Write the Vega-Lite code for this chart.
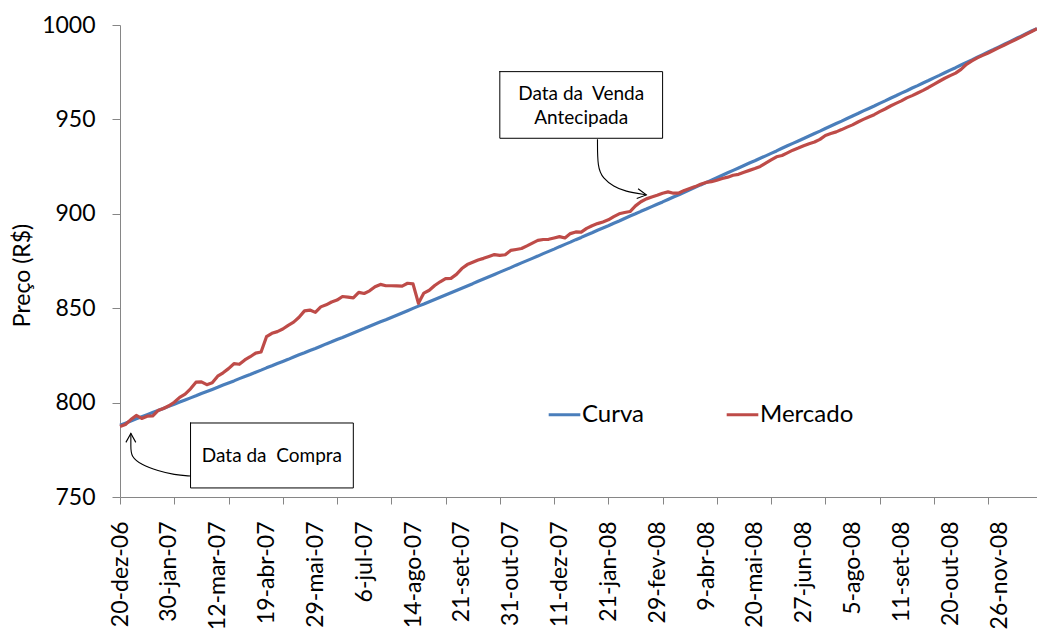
{
  "$schema": "https://vega.github.io/schema/vega-lite/v6.json",
  "width": 917,
  "height": 472,
  "autosize": {"type": "none"},
  "padding": {"left": 120, "top": 25, "right": 0, "bottom": 136},
  "background": "white",
  "config": {
    "view": {"stroke": null},
    "font": "Lato",
    "axis": {"labelFont": "Lato", "titleFont": "Lato"},
    "legend": {"labelFont": "Lato"},
    "text": {"font": "Lato"}
  },
  "datasets": {
    "precos": [
      {"i":0,"d":"20-dez-06","Curva":788.0,"Mercado":787.3},
      {"i":3,"d":"26-dez-06","Curva":789.1,"Mercado":788.4},
      {"i":6,"d":"29-dez-06","Curva":790.2,"Mercado":791.0},
      {"i":9,"d":"4-jan-07","Curva":791.4,"Mercado":793.2},
      {"i":12,"d":"9-jan-07","Curva":792.5,"Mercado":791.6},
      {"i":15,"d":"12-jan-07","Curva":793.6,"Mercado":792.8},
      {"i":18,"d":"17-jan-07","Curva":794.7,"Mercado":792.9},
      {"i":21,"d":"22-jan-07","Curva":795.8,"Mercado":795.8},
      {"i":24,"d":"25-jan-07","Curva":796.9,"Mercado":796.9},
      {"i":27,"d":"30-jan-07","Curva":798.0,"Mercado":798.3},
      {"i":30,"d":"2-fev-07","Curva":799.1,"Mercado":800.2},
      {"i":33,"d":"7-fev-07","Curva":800.3,"Mercado":802.8},
      {"i":36,"d":"12-fev-07","Curva":801.4,"Mercado":804.5},
      {"i":39,"d":"15-fev-07","Curva":802.5,"Mercado":807.3},
      {"i":42,"d":"22-fev-07","Curva":803.6,"Mercado":810.8},
      {"i":45,"d":"27-fev-07","Curva":804.8,"Mercado":811.0},
      {"i":48,"d":"2-mar-07","Curva":805.9,"Mercado":809.5},
      {"i":51,"d":"7-mar-07","Curva":807.0,"Mercado":810.5},
      {"i":54,"d":"12-mar-07","Curva":808.1,"Mercado":814.0},
      {"i":57,"d":"15-mar-07","Curva":809.3,"Mercado":815.8},
      {"i":60,"d":"20-mar-07","Curva":810.4,"Mercado":818.0},
      {"i":63,"d":"23-mar-07","Curva":811.5,"Mercado":820.6},
      {"i":66,"d":"28-mar-07","Curva":812.7,"Mercado":820.3},
      {"i":69,"d":"2-abr-07","Curva":813.8,"Mercado":822.6},
      {"i":72,"d":"5-abr-07","Curva":814.9,"Mercado":824.3},
      {"i":75,"d":"11-abr-07","Curva":816.1,"Mercado":826.2},
      {"i":78,"d":"16-abr-07","Curva":817.2,"Mercado":826.8},
      {"i":81,"d":"19-abr-07","Curva":818.4,"Mercado":834.9},
      {"i":84,"d":"24-abr-07","Curva":819.5,"Mercado":836.7},
      {"i":87,"d":"27-abr-07","Curva":820.7,"Mercado":837.6},
      {"i":90,"d":"3-mai-07","Curva":821.8,"Mercado":839.0},
      {"i":93,"d":"8-mai-07","Curva":822.9,"Mercado":840.9},
      {"i":96,"d":"11-mai-07","Curva":824.1,"Mercado":842.6},
      {"i":99,"d":"16-mai-07","Curva":825.3,"Mercado":845.2},
      {"i":102,"d":"21-mai-07","Curva":826.4,"Mercado":848.6},
      {"i":105,"d":"24-mai-07","Curva":827.6,"Mercado":849.0},
      {"i":108,"d":"29-mai-07","Curva":828.7,"Mercado":847.8},
      {"i":111,"d":"1-jun-07","Curva":829.9,"Mercado":850.7},
      {"i":114,"d":"6-jun-07","Curva":831.1,"Mercado":851.8},
      {"i":117,"d":"12-jun-07","Curva":832.2,"Mercado":853.3},
      {"i":120,"d":"15-jun-07","Curva":833.4,"Mercado":854.3},
      {"i":123,"d":"20-jun-07","Curva":834.5,"Mercado":856.2},
      {"i":126,"d":"25-jun-07","Curva":835.7,"Mercado":855.9},
      {"i":129,"d":"28-jun-07","Curva":836.9,"Mercado":855.5},
      {"i":132,"d":"3-jul-07","Curva":838.1,"Mercado":858.4},
      {"i":135,"d":"6-jul-07","Curva":839.2,"Mercado":857.8},
      {"i":138,"d":"11-jul-07","Curva":840.4,"Mercado":859.2},
      {"i":141,"d":"16-jul-07","Curva":841.6,"Mercado":861.4},
      {"i":144,"d":"19-jul-07","Curva":842.8,"Mercado":862.6},
      {"i":147,"d":"24-jul-07","Curva":843.9,"Mercado":861.9},
      {"i":150,"d":"27-jul-07","Curva":845.1,"Mercado":861.9},
      {"i":153,"d":"1-ago-07","Curva":846.3,"Mercado":861.8},
      {"i":156,"d":"6-ago-07","Curva":847.5,"Mercado":861.7},
      {"i":159,"d":"9-ago-07","Curva":848.7,"Mercado":863.2},
      {"i":162,"d":"14-ago-07","Curva":849.9,"Mercado":862.9},
      {"i":165,"d":"17-ago-07","Curva":851.1,"Mercado":852.6},
      {"i":168,"d":"22-ago-07","Curva":852.2,"Mercado":858.0},
      {"i":171,"d":"27-ago-07","Curva":853.4,"Mercado":859.5},
      {"i":174,"d":"30-ago-07","Curva":854.6,"Mercado":862.0},
      {"i":177,"d":"4-set-07","Curva":855.8,"Mercado":864.0},
      {"i":180,"d":"10-set-07","Curva":857.0,"Mercado":865.7},
      {"i":183,"d":"13-set-07","Curva":858.2,"Mercado":865.8},
      {"i":186,"d":"18-set-07","Curva":859.4,"Mercado":867.9},
      {"i":189,"d":"21-set-07","Curva":860.6,"Mercado":871.0},
      {"i":192,"d":"26-set-07","Curva":861.8,"Mercado":873.1},
      {"i":195,"d":"1-out-07","Curva":863.0,"Mercado":874.3},
      {"i":198,"d":"4-out-07","Curva":864.3,"Mercado":875.5},
      {"i":201,"d":"9-out-07","Curva":865.5,"Mercado":876.4},
      {"i":204,"d":"15-out-07","Curva":866.7,"Mercado":877.4},
      {"i":207,"d":"18-out-07","Curva":867.9,"Mercado":878.4},
      {"i":210,"d":"23-out-07","Curva":869.1,"Mercado":878.0},
      {"i":213,"d":"26-out-07","Curva":870.3,"Mercado":878.3},
      {"i":216,"d":"31-out-07","Curva":871.5,"Mercado":880.6},
      {"i":219,"d":"6-nov-07","Curva":872.8,"Mercado":881.1},
      {"i":222,"d":"9-nov-07","Curva":874.0,"Mercado":881.6},
      {"i":225,"d":"14-nov-07","Curva":875.2,"Mercado":883.0},
      {"i":228,"d":"20-nov-07","Curva":876.4,"Mercado":884.5},
      {"i":231,"d":"23-nov-07","Curva":877.6,"Mercado":885.9},
      {"i":234,"d":"28-nov-07","Curva":878.9,"Mercado":886.4},
      {"i":237,"d":"3-dez-07","Curva":880.1,"Mercado":886.5},
      {"i":240,"d":"6-dez-07","Curva":881.3,"Mercado":887.2},
      {"i":243,"d":"11-dez-07","Curva":882.6,"Mercado":887.9},
      {"i":246,"d":"14-dez-07","Curva":883.8,"Mercado":887.2},
      {"i":249,"d":"19-dez-07","Curva":885.0,"Mercado":889.5},
      {"i":252,"d":"24-dez-07","Curva":886.3,"Mercado":890.4},
      {"i":255,"d":"28-dez-07","Curva":887.5,"Mercado":890.3},
      {"i":258,"d":"3-jan-08","Curva":888.8,"Mercado":892.3},
      {"i":261,"d":"8-jan-08","Curva":890.0,"Mercado":893.7},
      {"i":264,"d":"11-jan-08","Curva":891.3,"Mercado":894.8},
      {"i":267,"d":"16-jan-08","Curva":892.5,"Mercado":895.7},
      {"i":270,"d":"21-jan-08","Curva":893.7,"Mercado":896.8},
      {"i":273,"d":"24-jan-08","Curva":895.0,"Mercado":898.5},
      {"i":276,"d":"29-jan-08","Curva":896.2,"Mercado":900.0},
      {"i":279,"d":"1-fev-08","Curva":897.5,"Mercado":900.7},
      {"i":282,"d":"8-fev-08","Curva":898.8,"Mercado":901.2},
      {"i":285,"d":"13-fev-08","Curva":900.0,"Mercado":904.2},
      {"i":288,"d":"18-fev-08","Curva":901.3,"Mercado":906.4},
      {"i":291,"d":"21-fev-08","Curva":902.5,"Mercado":907.9},
      {"i":294,"d":"26-fev-08","Curva":903.8,"Mercado":908.9},
      {"i":297,"d":"29-fev-08","Curva":905.1,"Mercado":909.8},
      {"i":300,"d":"5-mar-08","Curva":906.3,"Mercado":910.9},
      {"i":303,"d":"10-mar-08","Curva":907.6,"Mercado":911.6},
      {"i":306,"d":"13-mar-08","Curva":908.9,"Mercado":910.9},
      {"i":309,"d":"18-mar-08","Curva":910.1,"Mercado":911.0},
      {"i":312,"d":"24-mar-08","Curva":911.4,"Mercado":912.4},
      {"i":315,"d":"27-mar-08","Curva":912.7,"Mercado":913.4},
      {"i":318,"d":"1-abr-08","Curva":914.0,"Mercado":914.4},
      {"i":321,"d":"4-abr-08","Curva":915.3,"Mercado":915.6},
      {"i":324,"d":"9-abr-08","Curva":916.5,"Mercado":916.6},
      {"i":327,"d":"14-abr-08","Curva":917.8,"Mercado":917.0},
      {"i":330,"d":"17-abr-08","Curva":919.1,"Mercado":917.8},
      {"i":333,"d":"23-abr-08","Curva":920.4,"Mercado":918.7},
      {"i":336,"d":"28-abr-08","Curva":921.7,"Mercado":919.4},
      {"i":339,"d":"2-mai-08","Curva":923.0,"Mercado":920.4},
      {"i":342,"d":"7-mai-08","Curva":924.3,"Mercado":920.9},
      {"i":345,"d":"12-mai-08","Curva":925.6,"Mercado":922.0},
      {"i":348,"d":"15-mai-08","Curva":926.9,"Mercado":923.0},
      {"i":351,"d":"20-mai-08","Curva":928.1,"Mercado":924.0},
      {"i":354,"d":"26-mai-08","Curva":929.4,"Mercado":925.1},
      {"i":357,"d":"29-mai-08","Curva":930.7,"Mercado":926.8},
      {"i":360,"d":"3-jun-08","Curva":932.0,"Mercado":928.5},
      {"i":363,"d":"6-jun-08","Curva":933.3,"Mercado":930.2},
      {"i":366,"d":"11-jun-08","Curva":934.7,"Mercado":930.9},
      {"i":369,"d":"16-jun-08","Curva":936.0,"Mercado":932.3},
      {"i":372,"d":"19-jun-08","Curva":937.3,"Mercado":933.7},
      {"i":375,"d":"24-jun-08","Curva":938.6,"Mercado":934.8},
      {"i":378,"d":"27-jun-08","Curva":939.9,"Mercado":936.0},
      {"i":381,"d":"2-jul-08","Curva":941.2,"Mercado":937.1},
      {"i":384,"d":"7-jul-08","Curva":942.5,"Mercado":938.0},
      {"i":387,"d":"10-jul-08","Curva":943.8,"Mercado":939.4},
      {"i":390,"d":"15-jul-08","Curva":945.2,"Mercado":941.5},
      {"i":393,"d":"18-jul-08","Curva":946.5,"Mercado":942.5},
      {"i":396,"d":"23-jul-08","Curva":947.8,"Mercado":943.4},
      {"i":399,"d":"28-jul-08","Curva":949.1,"Mercado":944.6},
      {"i":402,"d":"31-jul-08","Curva":950.5,"Mercado":945.9},
      {"i":405,"d":"5-ago-08","Curva":951.8,"Mercado":947.1},
      {"i":408,"d":"8-ago-08","Curva":953.1,"Mercado":948.6},
      {"i":411,"d":"13-ago-08","Curva":954.5,"Mercado":950.0},
      {"i":414,"d":"18-ago-08","Curva":955.8,"Mercado":951.3},
      {"i":417,"d":"21-ago-08","Curva":957.1,"Mercado":952.5},
      {"i":420,"d":"26-ago-08","Curva":958.5,"Mercado":954.1},
      {"i":423,"d":"29-ago-08","Curva":959.8,"Mercado":955.5},
      {"i":426,"d":"3-set-08","Curva":961.2,"Mercado":957.1},
      {"i":429,"d":"8-set-08","Curva":962.5,"Mercado":958.5},
      {"i":432,"d":"11-set-08","Curva":963.9,"Mercado":959.8},
      {"i":435,"d":"16-set-08","Curva":965.2,"Mercado":961.4},
      {"i":438,"d":"19-set-08","Curva":966.6,"Mercado":962.6},
      {"i":441,"d":"24-set-08","Curva":967.9,"Mercado":964.0},
      {"i":444,"d":"29-set-08","Curva":969.3,"Mercado":965.4},
      {"i":447,"d":"2-out-08","Curva":970.6,"Mercado":966.9},
      {"i":450,"d":"7-out-08","Curva":972.0,"Mercado":968.6},
      {"i":453,"d":"10-out-08","Curva":973.3,"Mercado":970.2},
      {"i":456,"d":"15-out-08","Curva":974.7,"Mercado":971.8},
      {"i":459,"d":"20-out-08","Curva":976.1,"Mercado":973.2},
      {"i":462,"d":"23-out-08","Curva":977.4,"Mercado":974.5},
      {"i":465,"d":"28-out-08","Curva":978.8,"Mercado":976.5},
      {"i":468,"d":"31-out-08","Curva":980.2,"Mercado":979.2},
      {"i":471,"d":"5-nov-08","Curva":981.5,"Mercado":981.0},
      {"i":474,"d":"10-nov-08","Curva":982.9,"Mercado":982.6},
      {"i":477,"d":"13-nov-08","Curva":984.3,"Mercado":983.9},
      {"i":480,"d":"18-nov-08","Curva":985.7,"Mercado":985.2},
      {"i":483,"d":"21-nov-08","Curva":987.0,"Mercado":986.6},
      {"i":486,"d":"26-nov-08","Curva":988.4,"Mercado":988.0},
      {"i":489,"d":"1-dez-08","Curva":989.8,"Mercado":989.4},
      {"i":492,"d":"4-dez-08","Curva":991.2,"Mercado":990.8},
      {"i":495,"d":"9-dez-08","Curva":992.6,"Mercado":992.2},
      {"i":498,"d":"12-dez-08","Curva":994.0,"Mercado":993.6},
      {"i":501,"d":"17-dez-08","Curva":995.4,"Mercado":995.1},
      {"i":504,"d":"22-dez-08","Curva":996.8,"Mercado":996.5},
      {"i":507,"d":"26-dez-08","Curva":998.1,"Mercado":998.0}
    ],
    "caixas": [
      {"forma":"compra","k":1,"d":"15-fev-07","preco":789.2},
      {"forma":"compra","k":2,"d":"28-jun-07","preco":789.2},
      {"forma":"compra","k":3,"d":"28-jun-07","preco":754.8},
      {"forma":"compra","k":4,"d":"15-fev-07","preco":754.8},
      {"forma":"compra","k":5,"d":"15-fev-07","preco":789.2},
      {"forma":"venda","k":1,"d":"23-out-07","preco":975.3},
      {"forma":"venda","k":2,"d":"5-mar-08","preco":975.3},
      {"forma":"venda","k":3,"d":"5-mar-08","preco":940.0},
      {"forma":"venda","k":4,"d":"23-out-07","preco":940.0},
      {"forma":"venda","k":5,"d":"23-out-07","preco":975.3}
    ],
    "setas": [
      {"seta":"compra","k":1,"d":"15-fev-07","preco":761.1},
      {"seta":"compra","k":2,"d":"2-fev-07","preco":761.7},
      {"seta":"compra","k":3,"d":"22-jan-07","preco":763.9},
      {"seta":"compra","k":4,"d":"9-jan-07","preco":766.9},
      {"seta":"compra","k":5,"d":"29-dez-06","preco":771.5},
      {"seta":"compra","k":6,"d":"29-dez-06","preco":776.7},
      {"seta":"compra","k":7,"d":"29-dez-06","preco":783.7},
      {"seta":"venda","k":1,"d":"11-jan-08","preco":939.5},
      {"seta":"venda","k":2,"d":"11-jan-08","preco":924.5},
      {"seta":"venda","k":3,"d":"16-jan-08","preco":918.8},
      {"seta":"venda","k":4,"d":"24-jan-08","preco":914.4},
      {"seta":"venda","k":5,"d":"1-fev-08","preco":911.9},
      {"seta":"venda","k":6,"d":"21-fev-08","preco":910.0}
    ],
    "pontas": [
      {"seta":"compra","d":"29-dez-06","preco":783.7},
      {"seta":"venda","d":"21-fev-08","preco":910.0}
    ],
    "textos": [
      {"d":"24-abr-07","preco":771.5,"texto":"Data da\u00a0 Compra"},
      {"d":"28-dez-07","preco":963.6,"texto":"Data da\u00a0 Venda"},
      {"d":"28-dez-07","preco":950.8,"texto":"Antecipada"}
    ]
  },
  "encoding": {
    "y": {
      "field": "preco",
      "type": "quantitative",
      "scale": {"domain": [750, 1000], "nice": false, "zero": false},
      "axis": {
        "title": "Preço (R$)",
        "values": [750, 800, 850, 900, 950, 1000],
        "format": "d",
        "grid": false,
        "domainColor": "#868686",
        "tickColor": "#868686",
        "tickSize": 8,
        "labelFontSize": 23,
        "labelColor": "#000000",
        "labelPadding": 17,
        "labelFlush": false,
        "titleFontSize": 23,
        "titleFontWeight": "normal",
        "titleColor": "#000000",
        "titlePadding": 7,
        "titleY": 250
      }
    }
  },
  "layer": [
    {
      "data": {"name": "precos"},
      "transform": [{"fold": ["Curva", "Mercado"], "as": ["serie", "preco"]}],
      "mark": {"type": "line", "strokeWidth": 3.2, "strokeJoin": "round"},
      "encoding": {
        "x": {
          "field": "d",
          "type": "ordinal",
          "sort": {"field": "i", "op": "min"},
          "scale": {"type": "point", "padding": 0, "align": 0},
          "axis": {
            "orient": "bottom",
            "title": null,
            "values": ["20-dez-06","30-jan-07","12-mar-07","19-abr-07","29-mai-07","6-jul-07","14-ago-07","21-set-07","31-out-07","11-dez-07","21-jan-08","29-fev-08","9-abr-08","20-mai-08","27-jun-08","5-ago-08","11-set-08","20-out-08","26-nov-08"],
            "labelAngle": -90,
            "labelFontSize": 23,
            "labelColor": "#000000",
            "labelPadding": 24,
            "labelOverlap": false,
            "labelBound": false,
            "labelFlush": false,
            "ticks": false,
            "grid": false,
            "domainColor": "#868686"
          }
        },
        "color": {
          "field": "serie",
          "type": "nominal",
          "scale": {"domain": ["Curva", "Mercado"], "range": ["#4A7EBB", "#BE4B48"]},
          "legend": {
            "title": null,
            "orient": "none",
            "legendX": 427,
            "legendY": 372,
            "direction": "horizontal",
            "symbolType": "stroke",
            "symbolSize": 1000,
            "symbolStrokeWidth": 3,
            "labelFontSize": 24,
            "labelColor": "#000000",
            "labelOffset": 0,
            "columnPadding": 75,
            "padding": 0
          }
        }
      }
    },
    {
      "data": {"name": "caixas"},
      "mark": {"type": "line", "color": "#000000", "strokeWidth": 1, "strokeCap": "square"},
      "encoding": {
        "x": {
          "field": "d",
          "type": "ordinal",
          "sort": {"field": "i", "op": "min"},
          "axis": {
            "orient": "bottom",
            "title": null,
            "values": ["20-dez-06","2-fev-07","20-mar-07","3-mai-07","15-jun-07","27-jul-07","10-set-07","23-out-07","6-dez-07","21-jan-08","5-mar-08","17-abr-08","3-jun-08","15-jul-08","26-ago-08","7-out-08","18-nov-08"],
            "labels": false,
            "domain": false,
            "ticks": true,
            "tickSize": 7,
            "tickColor": "#868686",
            "grid": false
          }
        },
        "detail": {"field": "forma"},
        "order": {"field": "k"}
      }
    },
    {
      "data": {"name": "setas"},
      "mark": {"type": "line", "color": "#000000", "strokeWidth": 1.1, "interpolate": "basis"},
      "encoding": {
        "x": {"field": "d", "type": "ordinal", "sort": {"field": "i", "op": "min"}, "axis": null},
        "detail": {"field": "seta"},
        "order": {"field": "k"}
      }
    },
    {
      "data": {"name": "pontas"},
      "transform": [{"filter": "datum.seta === 'compra'"}],
      "mark": {"type": "point", "shape": "M-0.55,1L0,0L0.55,1", "filled": false, "stroke": "#000000", "strokeWidth": 1.1, "size": 324, "opacity": 1, "angle": 0},
      "encoding": {
        "x": {"field": "d", "type": "ordinal", "sort": {"field": "i", "op": "min"}, "axis": null}
      }
    },
    {
      "data": {"name": "pontas"},
      "transform": [{"filter": "datum.seta === 'venda'"}],
      "mark": {"type": "point", "shape": "M-0.55,1L0,0L0.55,1", "filled": false, "stroke": "#000000", "strokeWidth": 1.1, "size": 324, "opacity": 1, "angle": 98},
      "encoding": {
        "x": {"field": "d", "type": "ordinal", "sort": {"field": "i", "op": "min"}, "axis": null}
      }
    },
    {
      "data": {"name": "textos"},
      "mark": {"type": "text", "fontSize": 19, "color": "#000000", "align": "center", "baseline": "middle"},
      "encoding": {
        "x": {"field": "d", "type": "ordinal", "sort": {"field": "i", "op": "min"}, "axis": null},
        "text": {"field": "texto"}
      }
    }
  ],
  "resolve": {"axis": {"x": "independent"}}
}
